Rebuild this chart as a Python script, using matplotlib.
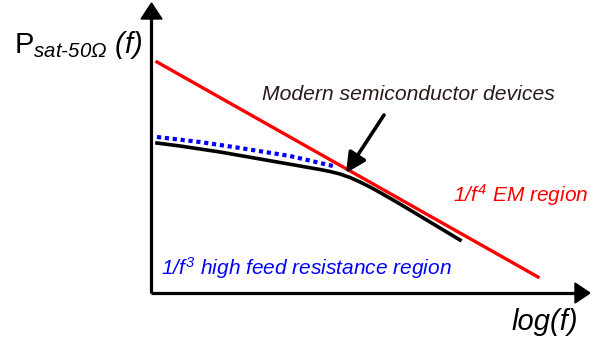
import numpy as np
import matplotlib.pyplot as plt

plt.rcParams['mathtext.fontset'] = 'custom'
plt.rcParams['mathtext.rm'] = 'Liberation Sans:italic'
plt.rcParams['mathtext.it'] = 'Liberation Sans:italic'
plt.rcParams['mathtext.sf'] = 'Liberation Sans'
plt.rcParams['font.family'] = ['Liberation Sans', 'DejaVu Sans']

# curve points (canvas units, y grows downward)
red_x = [157, 538]
red_y = [62, 277]
black_x = [157, 180, 200, 220, 240, 260, 280, 300, 320, 330, 340, 350, 360, 370,
           380, 400, 430, 460]
black_y = [143, 146, 149, 152, 155.5, 159, 162.5, 166, 169.5, 171.5, 174, 177.5,
           182, 187, 192.5, 204, 222, 240]
blue_x = [157, 200, 240, 290, 333]
blue_y = [137, 142, 148, 156, 166]

fig = plt.figure(figsize=(5.9, 3.39), dpi=100)
ax = fig.add_axes([0, 0, 1, 1])
ax.set_xlim(0, 590)
ax.set_ylim(339, 0)
ax.axis('off')

# axes with arrow heads
ax.plot([151, 151], [293, 18], color='black', lw=2.3, solid_capstyle='butt')
ax.plot([151, 577], [293, 293], color='black', lw=2.3, solid_capstyle='butt')
ax.fill([141, 162, 151.5], [19, 19, 3], color='black')
ax.fill([575, 575, 590], [283, 303, 293], color='black')

ax.plot(red_x, red_y, color='#ff0000', lw=2.4)
ax.plot(blue_x, blue_y, color='#0000ff', lw=3, linestyle=(0, (1, 0.9)))
ax.plot(black_x, black_y, color='black', lw=2.6, solid_joinstyle='round')

ax.annotate('', xy=(346, 173), xytext=(384, 115),
            arrowprops=dict(arrowstyle='-|>,head_length=1.2,head_width=0.6',
                            color='black', lw=2.6, shrinkA=0, shrinkB=0))

ax.text(262, 95, 'Modern semiconductor devices', fontsize=15.2, style='italic',
        color='#2b1a1a', va='center', ha='left')
ax.text(453, 195, r'$1/f^{4}$ EM region', fontsize=15, color='#ff0000',
        style='italic', va='center', ha='left')
ax.text(161, 268, r'$1/f^{3}$ high feed resistance region', fontsize=15,
        color='#0000ff', style='italic', va='center', ha='left')
ax.text(578, 322, 'log(f)', fontsize=21, style='italic', color='black',
        va='center', ha='right')
ax.text(14, 45, r'$\mathsf{P}_{sat\text{-}50\Omega}\ (f)$', fontsize=21,
        color='black', va='center', ha='left')

fig.savefig('out.png', dpi=100)
